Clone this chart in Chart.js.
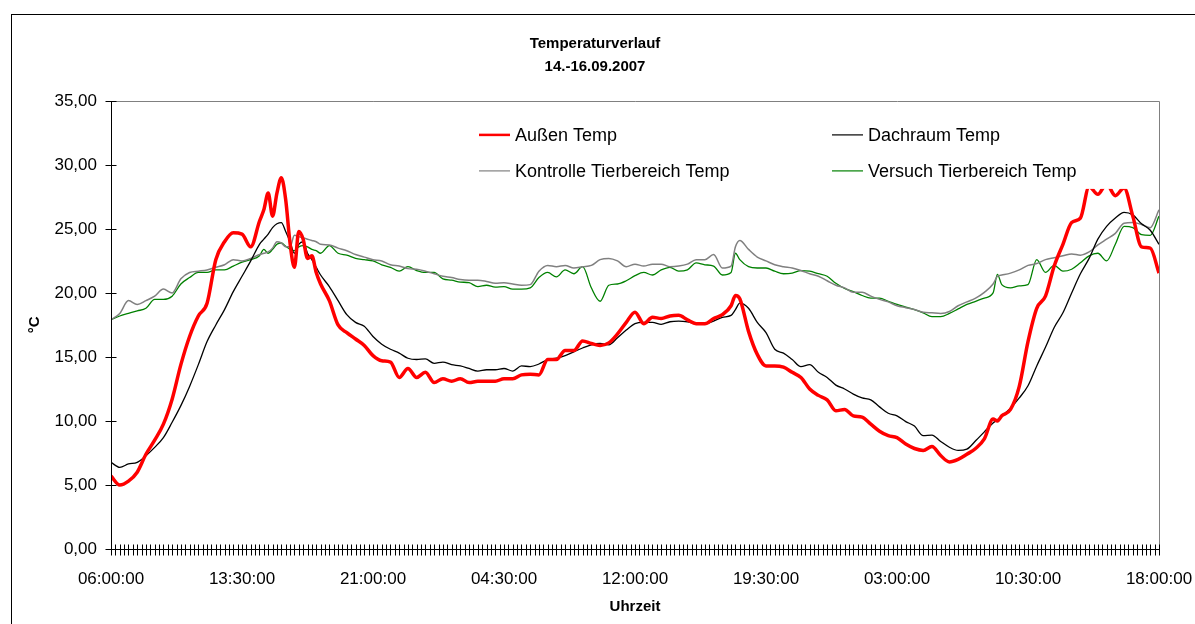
<!DOCTYPE html>
<html>
<head>
<meta charset="utf-8">
<script src="https://cdn.jsdelivr.net/npm/chart.js@4.4.0/dist/chart.umd.min.js"></script>
<style>
html,body{margin:0;padding:0;background:#fff;}
#wrap{width:1195px;height:624px;position:relative;}
</style>
</head>
<body>
<div id="wrap"><canvas id="c" width="1195" height="624"></canvas></div>
<script>
// x tick labels (every 7.5 h from 06:00:00 on 14.09.2007)
const timeLabels = ['06:00:00','13:30:00','21:00:00','04:30:00','12:00:00','19:30:00','03:00:00','10:30:00','18:00:00'];

// sample times, hours after 06:00:00
const hours = [
  0,0.5,1,1.5,2,2.5,3,3.5,4,4.5,5,5.5,6,6.5,7,7.5,8,8.5,
  8.75,9,9.25,9.5,9.75,10,10.25,10.5,10.75,11,11.25,11.5,11.75,
  12,12.5,13,13.5,14,14.5,15,15.5,16,16.5,17,17.5,18,18.5,19,19.5,20,20.5,21,21.5,22,22.5,23,23.5,
  24,24.5,25,25.5,26,26.5,27,27.5,28,28.5,29,29.5,30,30.5,31,31.5,32,32.5,33,33.5,34,34.5,35,35.5,
  35.75,36,36.5,37,
  37.5,38,38.5,39,39.5,40,40.5,41,41.5,42,42.5,43,43.5,44,44.5,45,45.5,46,46.5,47,47.5,48,48.5,49,49.5,50,50.5,
  50.75,
  51,51.5,52,52.5,53,53.5,54,54.5,55,55.5,56,56.5,57,57.5,58,58.5,59,59.5,60
];

const aussenTemp = [
  5.7,5.0,5.3,6.0,7.4,8.5,9.75,11.7,14.4,16.6,18.2,19.2,22.6,24.0,24.7,24.6,23.6,25.6,
  26.5,27.8,26.0,27.8,29.0,27.3,23.9,22.0,24.8,24.2,22.7,22.9,21.6,
  20.7,19.4,17.5,16.9,16.4,15.9,15.1,14.7,14.6,13.4,14.1,13.4,13.8,13.0,13.3,13.1,13.3,13.0,13.1,13.1,13.1,13.3,13.3,13.6,
  13.65,13.6,14.8,14.8,15.5,15.5,16.25,16.05,15.9,16.1,16.8,17.7,18.5,17.6,18.1,18.0,18.2,18.25,17.9,17.6,17.6,18.0,18.3,19.0,
  19.8,19.55,17.0,15.2,
  14.3,14.3,14.2,13.8,13.4,12.5,12.0,11.65,10.8,10.9,10.4,10.3,9.75,9.2,8.85,8.7,8.2,7.85,7.7,8.0,7.3,6.8,7.0,7.4,7.85,8.6,10.15,
  10.0,
  10.4,10.9,12.7,16.2,18.8,19.75,22.1,23.8,25.5,25.85,28.3,27.7,28.5,27.6,28.2,26.0,23.6,23.5,21.55
];

const dachraumTemp = [
  6.77,6.38,6.64,6.77,7.29,7.94,8.7,9.9,11.2,12.7,14.4,16.2,17.5,18.7,20.1,21.3,22.5,23.8,
  24.2,24.6,25.1,25.4,25.5,24.8,24.0,23.1,23.8,24.0,23.1,22.6,22.0,
  21.4,20.5,19.4,18.3,17.7,17.4,16.6,16.0,15.6,15.3,14.9,14.8,14.85,14.5,14.6,14.4,14.3,14.1,13.9,14.0,14.0,14.1,13.9,14.3,
  14.25,14.45,14.8,14.9,15.1,15.4,15.7,15.95,16.05,15.95,16.5,17.1,17.6,17.7,17.7,17.55,17.75,17.8,17.75,17.6,17.6,17.8,18.1,18.25,
  18.7,19.2,18.8,17.7,
  16.9,15.6,15.3,14.8,14.25,14.4,13.8,13.4,12.8,12.5,12.1,11.8,11.65,11.1,10.6,10.4,9.95,9.6,8.85,8.9,8.4,7.95,7.7,7.8,8.45,9.15,9.85,
  10.1,
  10.4,11.0,11.8,12.75,14.3,15.75,17.3,18.45,20.0,21.5,22.7,24.2,25.2,25.85,26.3,26.1,25.4,24.9,23.8
];

const kontrolleTemp = [
  17.9,18.4,19.4,19.1,19.4,19.75,20.3,20.0,21.1,21.6,21.7,21.8,22.0,22.2,22.6,22.5,22.7,23.0,
  23.1,23.2,23.5,24.0,23.9,23.6,23.6,24.5,24.4,24.3,24.2,24.1,24.0,
  23.8,23.75,23.5,23.3,23.0,22.8,22.6,22.5,22.2,22.1,21.9,21.85,21.7,21.5,21.3,21.2,21.05,21.0,21.0,20.9,20.75,20.8,20.7,20.6,
  20.65,21.7,22.15,22.05,22.15,21.95,22.05,22.15,22.6,22.7,22.5,22.05,22.25,22.1,22.25,22.25,22.05,22.1,22.25,22.6,22.6,23.0,21.95,22.1,
  23.6,24.1,23.4,22.8,
  22.5,22.2,22.05,21.95,21.75,21.5,21.3,20.95,20.6,20.4,20.05,20.05,19.75,19.5,19.3,19.0,18.85,18.7,18.5,18.45,18.4,18.55,19.0,19.3,19.6,20.05,20.7,
  21.3,
  21.4,21.55,21.8,22.15,22.3,22.6,22.75,22.9,23.05,22.95,23.2,23.75,24.2,24.65,25.45,25.5,25.35,25.1,26.5
];

const versuchTemp = [
  17.9,18.2,18.4,18.6,18.8,19.5,19.5,19.75,20.7,21.2,21.6,21.6,21.8,21.8,22.1,22.4,22.6,22.9,
  23.4,23.1,23.4,23.8,23.9,23.65,23.4,23.3,23.6,23.7,23.6,23.4,23.3,
  23.1,23.7,23.1,22.95,22.7,22.6,22.5,22.2,22.0,21.7,22.05,21.75,21.6,21.6,21.1,21.0,20.85,20.8,20.5,20.6,20.45,20.5,20.3,20.3,
  20.4,21.2,21.6,21.25,21.8,21.5,22.05,20.4,19.35,20.6,20.7,20.95,21.35,21.6,21.4,21.8,22.0,21.7,21.8,22.35,22.2,22.1,21.4,21.6,
  23.1,22.6,22.05,21.95,
  21.95,21.7,21.5,21.55,21.75,21.7,21.5,21.3,20.75,20.35,20.1,19.8,19.6,19.6,19.35,19.1,18.9,18.7,18.45,18.15,18.15,18.4,18.75,19.1,19.35,19.6,20.0,
  21.45,
  20.65,20.4,20.55,20.65,22.6,21.6,22.15,21.7,21.85,22.35,22.9,23.1,22.5,23.8,25.2,25.1,24.55,24.5,26.0
];

const seriesNames = ['Außen Temp','Dachraum Temp','Kontrolle Tierbereich Temp','Versuch Tierbereich Temp'];
const seriesColors = ['#FF0000','#000000','#808080','#008000'];
const seriesWidths = [3.5,1.3,1.5,1.3];
const legendWidths = [2.5,1.2,1.2,1.2];
const seriesValues = [aussenTemp, dachraumTemp, kontrolleTemp, versuchTemp];

const FONT = "'Liberation Sans', Arial, sans-serif";
Chart.defaults.font.family = FONT;
Chart.defaults.color = '#000';

function pts(vals){ return vals.map((v,i)=>({x:hours[i], y:v})); }

const deco = {
  id:'deco',
  beforeDatasetsDraw(chart){
    const {ctx, chartArea:a} = chart;
    ctx.save();
    ctx.strokeStyle = '#808080';
    ctx.lineWidth = 1;
    ctx.beginPath();
    ctx.moveTo(Math.round(a.left), Math.round(a.top)+0.5);
    ctx.lineTo(Math.round(a.right)+0.5, Math.round(a.top)+0.5);
    ctx.lineTo(Math.round(a.right)+0.5, Math.round(a.bottom));
    ctx.stroke();
    ctx.restore();
  },
  afterDatasetsDraw(chart){
    const {ctx, chartArea:a} = chart;
    ctx.save();
    // legend box (white, covers lines like in the original)
    const bx = a.left + 365, by = a.top + 15, bw = 665, bh = 73;
    ctx.fillStyle = '#fff';
    ctx.fillRect(bx, by, bw, bh);
    const cols = [bx + 3, bx + 356];
    const rows = [by + 19, by + 55];
    ctx.font = '18px ' + FONT;
    ctx.textBaseline = 'middle';
    ctx.textAlign = 'left';
    for (let i = 0; i < seriesNames.length; i++) {
      const cx = cols[i % 2], cy = rows[Math.floor(i / 2)];
      ctx.strokeStyle = seriesColors[i];
      ctx.lineWidth = legendWidths[i];
      ctx.beginPath();
      ctx.moveTo(cx, cy); ctx.lineTo(cx + 31, cy);
      ctx.stroke();
      ctx.fillStyle = '#000';
      ctx.fillText(seriesNames[i], cx + 36, cy + 1);
    }
    ctx.restore();
  },
  afterDraw(chart){
    const {ctx, chartArea:a, scales} = chart;
    ctx.save();
    ctx.strokeStyle = '#000';
    ctx.lineWidth = 1;
    // axis lines
    const L = Math.round(a.left)+0.5, B = Math.round(a.bottom)+0.5;
    ctx.beginPath();
    ctx.moveTo(L, Math.round(a.top)); ctx.lineTo(L, B);
    ctx.lineTo(Math.round(a.right)+1, B);
    ctx.stroke();
    // tick marks
    ctx.beginPath();
    scales.x.ticks.forEach(t => {
      const px = Math.round(scales.x.getPixelForValue(t.value)) + 0.5;
      ctx.moveTo(px, B - 5); ctx.lineTo(px, B + 6);
    });
    scales.y.ticks.forEach(t => {
      const py = Math.round(scales.y.getPixelForValue(t.value)) + 0.5;
      ctx.moveTo(L - 6, py); ctx.lineTo(L + 5, py);
    });
    ctx.stroke();
    // outer chart frame
    ctx.strokeRect(11.5, 14.5, 1300, 700);
    ctx.restore();
  }
};

new Chart(document.getElementById('c'), {
  type: 'line',
  data: {
    datasets: seriesNames.map((n,i)=>({
      label: n,
      data: pts(seriesValues[i]),
      borderColor: seriesColors[i],
      backgroundColor: seriesColors[i],
      borderWidth: seriesWidths[i],
      pointRadius: 0,
      fill: false,
      cubicInterpolationMode: 'monotone'
    }))
  },
  options: {
    responsive: false,
    animation: false,
    devicePixelRatio: 1,
    layout: { padding: { left: 0, right: 5, top: 0, bottom: 0 } },
    plugins: {
      legend: { display: false },
      tooltip: { enabled: false },
      title: {
        display: true,
        text: ['Temperaturverlauf', '14.-16.09.2007'],
        color: '#000',
        font: { size: 15, weight: 'bold', lineHeight: 1.53 },
        padding: { top: 32, bottom: 23 }
      }
    },
    scales: {
      x: {
        type: 'linear',
        min: 0, max: 60,
        grid: { display: false, drawTicks: false },
        border: { display: false },
        ticks: {
          stepSize: 0.25,
          autoSkip: false,
          maxRotation: 0, minRotation: 0,
          padding: 20,
          color: '#000',
          font: { size: 17 },
          callback: (v) => {
            const i = v / 7.5;
            const r = Math.round(i);
            return Math.abs(i - r) < 1e-9 ? timeLabels[r] : '';
          }
        },
        title: {
          display: true, text: 'Uhrzeit', color: '#000',
          font: { size: 15, weight: 'bold' },
          padding: { top: 0, bottom: 8 }
        },
        afterFit: (s) => { s.height = 75; s.paddingLeft = 0; s.paddingRight = 36; }
      },
      y: {
        min: 0, max: 35,
        grid: { display: false, drawTicks: false },
        border: { display: false },
        ticks: {
          stepSize: 5,
          padding: 14,
          color: '#000',
          font: { size: 17 },
          callback: (v) => v.toFixed(2).replace('.', ',')
        },
        title: {
          display: true, text: '°C', color: '#000',
          font: { size: 15, weight: 'bold' },
          padding: { top: 26, bottom: 0 }
        },
        afterFit: (s) => { s.width = 111; }
      }
    }
  },
  plugins: [deco]
});
</script>
</body>
</html>
